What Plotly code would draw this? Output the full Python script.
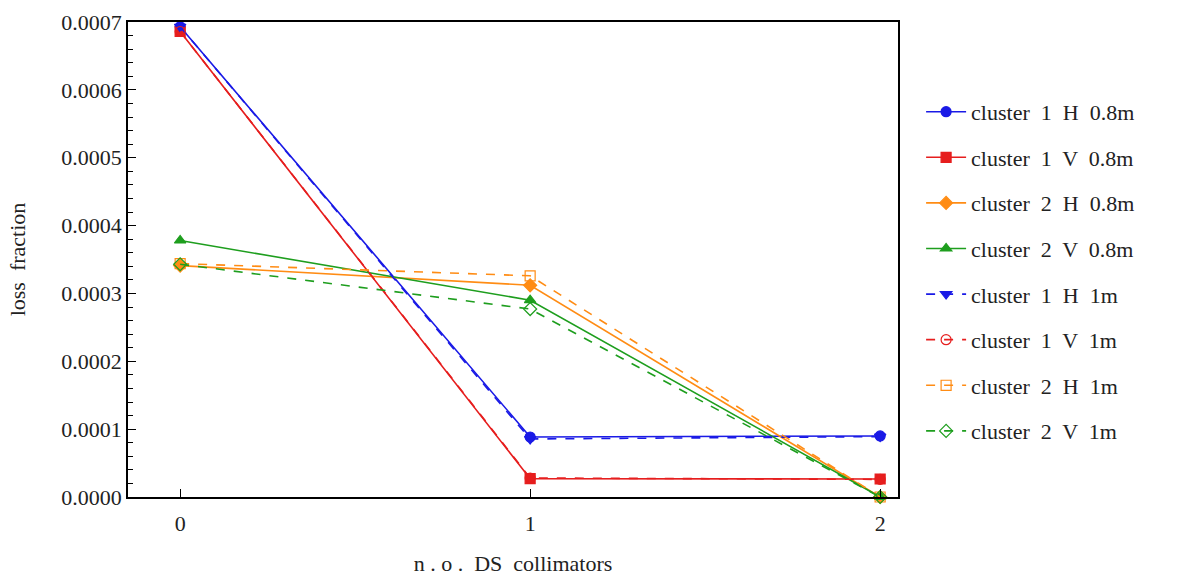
import plotly.graph_objects as go

x_vals = [0, 1, 2]
names = ["cluster  1  H  0.8m", "cluster  1  V  0.8m", "cluster  2  H  0.8m", "cluster  2  V  0.8m",
         "cluster  1  H  1m", "cluster  1  V  1m", "cluster  2  H  1m", "cluster  2  V  1m"]
c1H_08 = [0.000693, 0.0000884, 0.0000900]
c1V_08 = [0.000686, 0.0000270, 0.0000265]
c2H_08 = [0.000341, 0.000312, 0.0]
c2V_08 = [0.000378, 0.000290, 0.0]
c1H_1 = [0.000693, 0.0000855, 0.0000890]
c1V_1 = [0.000686, 0.0000280, 0.0000260]
c2H_1 = [0.000344, 0.000326, 0.0]
c2V_1 = [0.000343, 0.000277, 0.0]
series = [c1H_08, c1V_08, c2H_08, c2V_08, c1H_1, c1V_1, c2H_1, c2V_1]

colors = ["#1a1ae6", "#e61e1e", "#ff8c14", "#1e9e1e", "#1a1ae6", "#e61e1e", "#ff8c14", "#1e9e1e"]
symbols = ["circle", "square", "diamond", "triangle-up", "triangle-down", "circle-open", "square-open", "diamond-open"]
dashes = ["solid"] * 4 + ["dash"] * 4

fig = go.Figure()
for i, (n, s) in enumerate(zip(names, series)):
    fig.add_trace(go.Scatter(
        x=x_vals, y=s, name=n, mode="lines+markers",
        line=dict(color=colors[i], width=1.6, dash=dashes[i]),
        marker=dict(color=colors[i], symbol=symbols[i], size=10,
                    line=dict(color=colors[i], width=1.2)),
        legendgroup=str(i), cliponaxis=False,
    ))

font_fam = "Liberation Serif, Times New Roman, serif"
fig.update_layout(
    width=1184, height=576,
    margin=dict(l=128, r=286, t=22, b=79),
    paper_bgcolor="white", plot_bgcolor="white",
    font=dict(family=font_fam, size=21, color="#222"),
    showlegend=True,
    legend=dict(x=1.03, y=0.855, xanchor="left", yanchor="top",
                tracegroupgap=14, font=dict(size=22, family=font_fam, color="#222"),
                itemwidth=40),
    xaxis=dict(range=[-0.149, 2.051], tickvals=[0, 1, 2], ticktext=["0", "1", "2"],
               ticks="inside", ticklen=8, tickcolor="black", showline=True, linecolor="black",
               linewidth=1.5, mirror=True, showgrid=False, zeroline=False, automargin=False,
               ticklabelstandoff=6,
               tickfont=dict(size=22, family=font_fam),
               title=dict(text="n . o .  DS  collimators", font=dict(size=22, family=font_fam), standoff=30)),
    yaxis=dict(range=[0, 0.0007], tickvals=[i * 0.0001 for i in range(8)],
               ticktext=["0.0000", "0.0001", "0.0002", "0.0003", "0.0004", "0.0005", "0.0006", "0.0007"],
               ticks="inside", ticklen=8, tickcolor="black", showline=True, linecolor="black",
               linewidth=1.5, mirror=True, showgrid=False, zeroline=False, automargin=False,
               minor=dict(ticks="inside", ticklen=5, dtick=0.00002, tickcolor="black", showgrid=False),
               tickfont=dict(size=22, family=font_fam),
               title=dict(text="loss  fraction", font=dict(size=22, family=font_fam), standoff=30)),
)

fig.write_html("out.html")
